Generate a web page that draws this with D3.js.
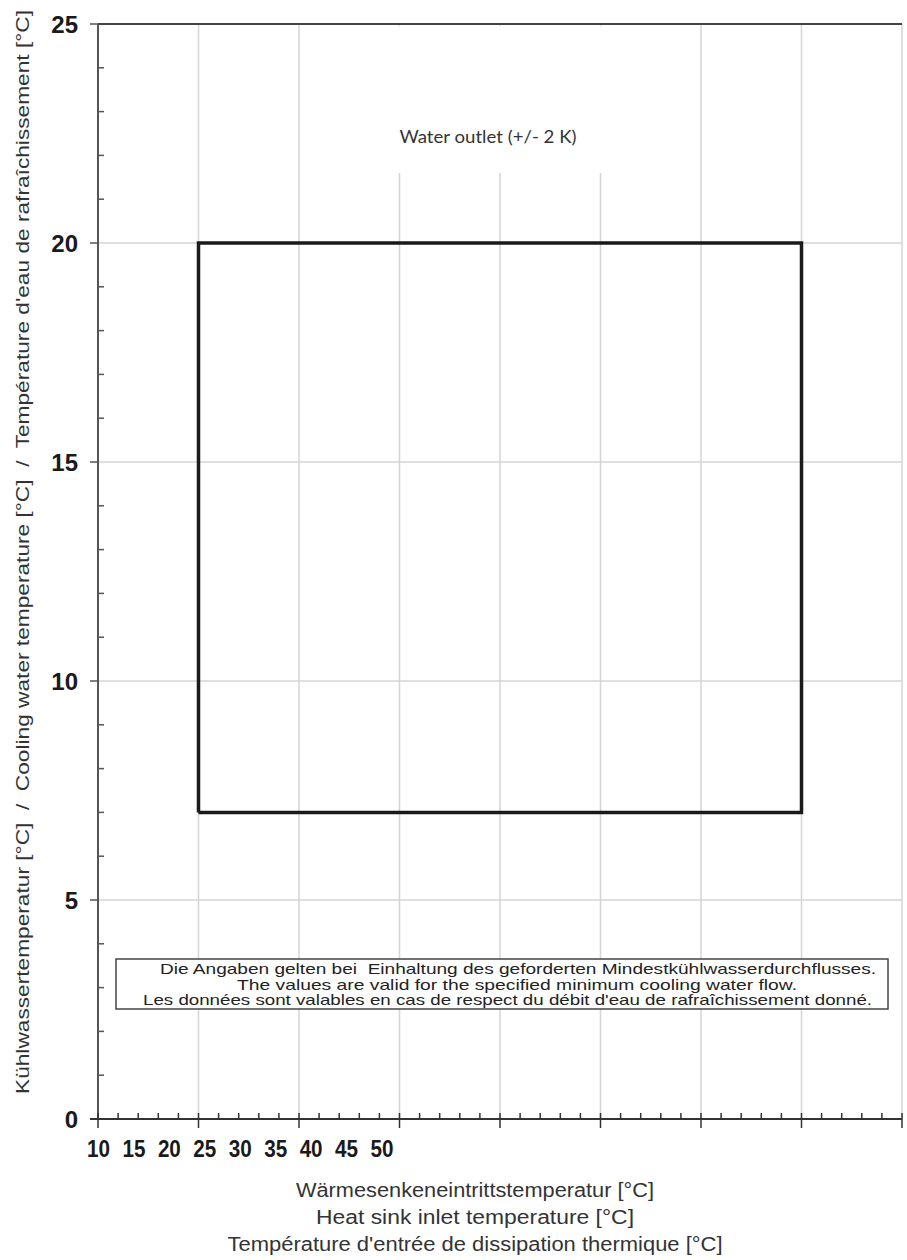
<!DOCTYPE html>
<html>
<head>
<meta charset="utf-8">
<script src="https://cdn.jsdelivr.net/npm/d3@7"></script>
<style>
  body { margin: 0; background: #fff; }
  text { font-family: "Liberation Sans", Arial, sans-serif; }
</style>
</head>
<body>
<svg id="chart" width="907" height="1260"></svg>
<script>
// x axis / y axis ranges
const xDomain = [10, 50];
const yDomain = [0, 25];
const xMajor = [10, 15, 20, 25, 30, 35, 40, 45, 50];
const yMajor = [0, 5, 10, 15, 20, 25];
const xTickLabels = ["10", "15", "20", "25", "30", "35", "40", "45", "50"];

// operating envelope (water outlet)
const envX = [15, 45, 45, 15, 15];
const envY = [7, 7, 20, 20, 7];

const yTitle = "Kühlwassertemperatur [°C]  /  Cooling water temperature [°C]  /  Température d'eau de rafraîchissement [°C]";
const xTitle = ["Wärmesenkeneintrittstemperatur [°C]", "Heat sink inlet temperature [°C]", "Température d'entrée de dissipation thermique [°C]"];
const note = ["Die Angaben gelten bei  Einhaltung des geforderten Mindestkühlwasserdurchflusses.",
              "The values are valid for the specified minimum cooling water flow.",
              "Les données sont valables en cas de respect du débit d'eau de rafraîchissement donné."];
const envLabel = "Water outlet (+/- 2 K)";

const svg = d3.select("#chart");
const plotL = 98, plotR = 902, plotT = 24, plotB = 1119;

const x = d3.scaleLinear().domain(xDomain).range([plotL, plotR]);
const y = d3.scaleLinear().domain(yDomain).range([plotB, plotT]);
// the labels sit packed at the left in the original drawing
const xLab = d3.scalePoint().domain(xTickLabels).range([98.5, 382]);

//GRID
svg.append("g").selectAll("line").data(xMajor.slice(1)).enter().append("line")
    .attr("x1", d => x(d)).attr("x2", d => x(d))
    .attr("y1", plotT).attr("y2", plotB)
    .attr("stroke", "#d4d4d4").attr("stroke-width", 1.5);

svg.append("g").selectAll("line").data(yMajor.slice(1, -1)).enter().append("line")
    .attr("x1", plotL).attr("x2", plotR)
    .attr("y1", d => y(d)).attr("y2", d => y(d))
    .attr("stroke", "#d4d4d4").attr("stroke-width", 1.5);

// white patch behind the label
svg.append("rect")
    .attr("x", 335).attr("y", plotT + 2).attr("width", 320).attr("height", 147)
    .attr("fill", "#fff");

svg.append("text")
    .attr("x", 488).attr("y", 143)
    .attr("text-anchor", "middle")
    .attr("font-size", 17)
    .attr("fill", "#333")
    .attr("textLength", 177).attr("lengthAdjust", "spacingAndGlyphs")
    .style("font-family", "Lato, 'Open Sans', sans-serif")
    .text(envLabel);

// top border
svg.append("line")
    .attr("x1", plotL).attr("x2", plotR).attr("y1", plotT).attr("y2", plotT)
    .attr("stroke", "#444").attr("stroke-width", 2);

//Y AXIS
const yAxis = svg.append("g");
yAxis.append("line")
    .attr("x1", plotL).attr("x2", plotL).attr("y1", plotT).attr("y2", plotB)
    .attr("stroke", "#555").attr("stroke-width", 2);
yAxis.selectAll(".ymin").data(d3.range(yDomain[0], yDomain[1] + 1).filter(v => v % 5 != 0)).enter().append("line")
    .attr("x1", plotL).attr("x2", plotL + 6)
    .attr("y1", d => y(d)).attr("y2", d => y(d))
    .attr("stroke", "#555").attr("stroke-width", 1.5);
yAxis.selectAll(".ymaj").data(yMajor).enter().append("line")
    .attr("x1", plotL - 8).attr("x2", plotL)
    .attr("y1", d => y(d)).attr("y2", d => y(d))
    .attr("stroke", "#555").attr("stroke-width", 1.5);
yAxis.selectAll("text").data(yMajor).enter().append("text")
    .attr("x", 78).attr("y", d => y(d) + 8.5)
    .attr("text-anchor", "end")
    .attr("font-size", 24).attr("font-weight", "bold")
    .attr("fill", "#1a1a1a")
    .text(d => d);

//X AXIS
const xAxis = svg.append("g");
xAxis.selectAll(".xmin").data(d3.range(xDomain[0], xDomain[1] + 0.01, 1).filter(v => v % 5 != 0)).enter().append("line")
    .attr("x1", d => x(d)).attr("x2", d => x(d))
    .attr("y1", plotB - 6).attr("y2", plotB)
    .attr("stroke", "#333").attr("stroke-width", 1.5);
xAxis.selectAll(".xmaj").data(xMajor).enter().append("line")
    .attr("x1", d => x(d)).attr("x2", d => x(d))
    .attr("y1", plotB - 6).attr("y2", plotB + 9)
    .attr("stroke", "#333").attr("stroke-width", 1.5);
xAxis.append("line")
    .attr("x1", plotL - 8).attr("x2", plotR).attr("y1", plotB).attr("y2", plotB)
    .attr("stroke", "#333").attr("stroke-width", 2);
xAxis.selectAll("text").data(xTickLabels).enter().append("text")
    .attr("x", d => xLab(d) - 11.5).attr("y", 1157)
    .attr("font-size", 24).attr("font-weight", "bold")
    .attr("fill", "#1a1a1a")
    .attr("textLength", 23).attr("lengthAdjust", "spacingAndGlyphs")
    .text(d => d);

//TITLES
svg.append("text")
    .attr("transform", "translate(29," + 552 + ") rotate(-90)")
    .attr("x", -542)
    .attr("font-size", 19)
    .attr("fill", "#333")
    .attr("textLength", 1084).attr("lengthAdjust", "spacingAndGlyphs")
    .style("white-space", "pre")
    .text(yTitle);

const xTitleW = [358, 318, 495];
svg.append("g").selectAll("text").data(xTitle).enter().append("text")
    .attr("x", (d, i) => 475 - xTitleW[i] / 2).attr("y", (d, i) => 1197 + i * 27)
    .attr("font-size", 19.5)
    .attr("fill", "#333")
    .attr("textLength", (d, i) => xTitleW[i]).attr("lengthAdjust", "spacingAndGlyphs")
    .text(d => d);

//ENVELOPE
const line = d3.line().x(d => x(d[0])).y(d => y(d[1]));
svg.append("path")
    .datum(d3.zip(envX, envY))
    .attr("d", line)
    .attr("fill", "none")
    .attr("stroke", "#1a1a1a")
    .attr("stroke-width", 3.5);

//NOTE BOX
svg.append("rect")
    .attr("x", 116).attr("y", 959).attr("width", 772).attr("height", 50)
    .attr("fill", "#fff").attr("stroke", "#444").attr("stroke-width", 1.5);
const noteX = [160, 237, 143], noteW = [716, 560, 729];
svg.append("g").selectAll("text").data(note).enter().append("text")
    .attr("x", (d, i) => noteX[i]).attr("y", (d, i) => 974 + i * 15.5)
    .attr("font-size", 15)
    .attr("fill", "#222")
    .attr("textLength", (d, i) => noteW[i]).attr("lengthAdjust", "spacingAndGlyphs")
    .style("white-space", "pre")
    .text(d => d);
</script>
</body>
</html>
